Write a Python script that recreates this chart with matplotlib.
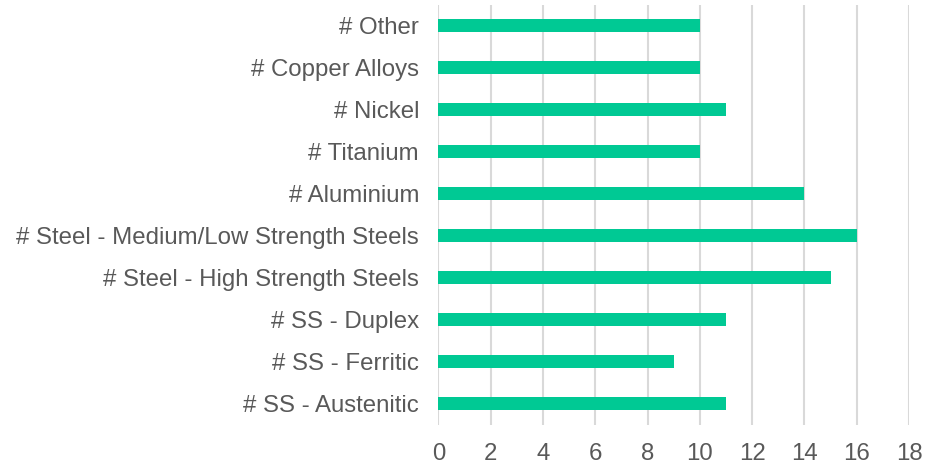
import matplotlib
matplotlib.use("Agg")
import matplotlib.pyplot as plt

categories = ["# SS - Austenitic", "# SS - Ferritic", "# SS - Duplex",
              "# Steel - High Strength Steels", "# Steel - Medium/Low Strength Steels",
              "# Aluminium", "# Titanium", "# Nickel", "# Copper Alloys", "# Other"]
counts = [11, 9, 11, 15, 16, 14, 10, 11, 10, 10]
xticks = [0, 2, 4, 6, 8, 10, 12, 14, 16, 18]

plt.rcParams['font.family'] = ['Liberation Sans', 'DejaVu Sans']

fig = plt.figure(figsize=(9.29, 4.68), dpi=100)
ax = fig.add_axes([0.472, 0.092, 0.5065, 0.897])

ax.barh(range(len(categories)), counts, height=0.31, color="#00C994", zorder=3)

ax.set_xlim(0, 18)
ax.set_ylim(-0.5, 9.48)
ax.set_xticks(xticks)
ax.set_yticks(range(len(categories)))
ax.set_yticklabels(categories)
ax.grid(axis="x", color="#d9d9d9", linewidth=1.5, zorder=0)
for s in ax.spines.values():
    s.set_visible(False)
ax.tick_params(axis="both", length=0, labelsize=17.3, labelcolor="#595959")
ax.tick_params(axis="y", pad=14)
ax.tick_params(axis="x", pad=13)

fig.savefig("out.png", dpi=100)
